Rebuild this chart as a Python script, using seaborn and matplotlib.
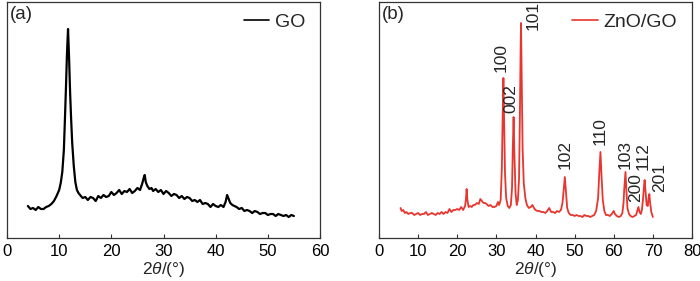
import matplotlib
matplotlib.use("Agg")
import matplotlib.pyplot as plt
import seaborn as sns
import pandas as pd

# ---------------- data (arbitrary intensity units) ----------------
go_x = [4.0, 4.5, 5.0, 5.5, 6.0, 6.5, 7.0, 7.5, 8.0, 8.5, 9.0, 9.5, 10.0, 10.3, 10.6, 10.9,
        11.1, 11.3, 11.5, 11.7, 11.9, 12.1, 12.3, 12.5, 12.8, 13.1, 13.4, 13.7, 14.0, 14.5,
        15.0, 15.5, 16.0, 16.5, 17.0, 17.5, 18.0, 18.5, 19.0, 19.5, 20.0, 20.5, 21.0, 21.5,
        22.0, 22.5, 23.0, 23.5, 24.0, 24.5, 25.0, 25.5, 25.9, 26.2, 26.4, 26.6, 26.9, 27.3,
        27.7, 28.0, 28.5, 29.0, 29.5, 30.0, 30.5, 31.0, 31.5, 32.0, 32.5, 33.0, 33.5, 34.0,
        34.5, 35.0, 35.5, 36.0, 36.5, 37.0, 37.5, 38.0, 38.5, 39.0, 39.5, 40.0, 40.5, 41.0,
        41.5, 41.9, 42.2, 42.5, 42.8, 43.2, 43.6, 44.0, 44.5, 45.0, 45.5, 46.0, 46.5, 47.0,
        47.5, 48.0, 48.5, 49.0, 49.5, 50.0, 50.5, 51.0, 51.5, 52.0, 52.5, 53.0, 53.5, 54.0,
        54.5, 55.0]
go_y = [32, 29, 30, 28, 31, 29, 29, 31, 32, 34, 37, 42, 48, 55, 66, 88,
        118, 150, 185, 209, 180, 145, 118, 95, 72, 56, 48, 45, 43, 40,
        41, 38, 41, 40, 37, 42, 40, 43, 41, 42, 46, 43, 45, 48,
        44, 47, 46, 49, 45, 47, 50, 48, 54, 60, 63, 56, 52, 49,
        50, 47, 49, 46, 48, 44, 47, 45, 42, 44, 43, 40, 42, 39,
        41, 40, 37, 38, 36, 38, 34, 35, 34, 31, 34, 32, 31, 33,
        31, 36, 43, 39, 35, 33, 32, 31, 29, 30, 27, 28, 27, 25,
        27, 26, 24, 25, 25, 23, 24, 24, 22, 24, 23, 22, 23, 21,
        23, 22]

zno_x = [5.5, 5.8, 6.2, 6.6, 7.0, 7.5, 8.0, 8.5, 9.0, 9.5, 10.0, 10.5, 11.0, 11.5, 12.0,
         12.5, 13.0, 13.5, 14.0, 14.5, 15.0, 15.5, 16.0, 16.5, 17.0, 17.5, 18.0, 18.5, 19.0,
         19.5, 20.0, 20.5, 21.0, 21.5, 22.0, 22.2, 22.4, 22.6, 22.9, 23.3, 23.7, 24.1, 24.5,
         25.0, 25.5, 25.9, 26.3, 26.7, 27.1, 27.5, 28.0, 28.5, 29.0, 29.5, 30.0, 30.4, 30.7,
         31.1, 31.4, 31.6, 31.8, 32.0, 32.2, 32.5, 32.9, 33.3, 33.7, 34.0, 34.2, 34.4, 34.6,
         34.9, 35.2, 35.5, 35.8, 36.0, 36.2, 36.3, 36.5, 36.7, 37.0, 37.4, 37.8, 38.3, 38.8,
         39.2, 39.6, 40.0, 40.5, 41.0, 41.5, 42.0, 42.5, 43.0, 43.5, 44.0, 44.5, 45.0, 45.5,
         46.0, 46.5, 46.9, 47.2, 47.5, 47.8, 48.1, 48.5, 49.0, 49.5, 50.0, 50.5, 51.0, 51.5,
         52.0, 52.5, 53.0, 53.5, 54.0, 54.5, 55.0, 55.5, 56.0, 56.3, 56.6, 56.9, 57.2, 57.6,
         58.0, 58.5, 59.0, 59.5, 60.0, 60.3, 60.8, 61.3, 61.8, 62.2, 62.5, 62.7, 63.0, 63.2,
         63.5, 63.9, 64.3, 64.8, 65.3, 65.7, 66.0, 66.3, 66.6, 66.9, 67.2, 67.5, 67.8, 67.9,
         68.1, 68.4, 68.7, 68.9, 69.1, 69.3, 69.6, 70.0]
zno_y = [30, 27, 28, 25, 26, 24, 25, 25, 23, 24, 25, 23, 24, 24, 26,
         23, 24, 25, 24, 23, 25, 24, 26, 24, 26, 25, 29, 26, 28,
         28, 29, 28, 31, 28, 32, 38, 49, 38, 31, 32, 31, 33, 33,
         35, 34, 39, 37, 35, 35, 34, 32, 33, 31, 31, 32, 36, 33,
         38, 70, 120, 160, 115, 65, 40, 32, 30, 33, 50, 90, 121, 85,
         45, 33, 38, 60, 120, 190, 215, 150, 90, 55, 40, 33, 30, 31,
         33, 30, 28, 27, 27, 26, 26, 25, 27, 30, 26, 26, 25, 27,
         26, 28, 35, 48, 61, 45, 30, 25, 23, 23, 22, 23, 22, 22,
         21, 23, 22, 22, 21, 22, 23, 27, 40, 65, 86, 60, 38, 27,
         23, 23, 22, 24, 27, 24, 22, 21, 22, 25, 35, 50, 66, 50,
         30, 24, 22, 21, 22, 23, 27, 31, 26, 24, 28, 40, 55, 58,
         48, 33, 32, 40, 44, 35, 26, 21]

peak_labels = ["100", "002", "101", "102", "110", "103", "200", "112", "201"]
label_x = [31.1, 33.8, 39.5, 47.5, 56.4, 62.9, 65.5, 67.5, 71.6]
label_y = [166, 125, 208, 69, 93, 69, 36, 68, 46]

ticks_a = [0, 10, 20, 30, 40, 50, 60]
ticks_b = [0, 10, 20, 30, 40, 50, 60, 70, 80]

# ---------------- style ----------------
sns.set_style("ticks")
plt.rcParams["font.family"] = ["Liberation Sans", "DejaVu Sans"]
plt.rcParams["mathtext.fontset"] = "custom"
plt.rcParams["mathtext.rm"] = "Liberation Sans"
plt.rcParams["mathtext.it"] = "Liberation Sans:italic"

RED = "#e8352e"
SPINE = "#333333"

df_go = pd.DataFrame({"x": go_x, "y": go_y})
df_zno = pd.DataFrame({"x": zno_x, "y": zno_y})

fig = plt.figure(figsize=(7, 2.81), dpi=100)
ax1 = fig.add_axes([7 / 700, 43 / 281, 313 / 700, 236 / 281])
ax2 = fig.add_axes([379 / 700, 43 / 281, 313 / 700, 236 / 281])

sns.lineplot(data=df_go, x="x", y="y", ax=ax1, color="black", lw=1.6,
             estimator=None, sort=False, label="GO")
sns.lineplot(data=df_zno, x="x", y="y", ax=ax2, color=RED, lw=1.3,
             estimator=None, sort=False, label="ZnO/GO")

for t, lx, ly in zip(peak_labels, label_x, label_y):
    ax2.text(lx, ly, t, rotation=90, ha="center", va="bottom", fontsize=12.5)

for ax, ticks, tag in [(ax1, ticks_a, "(a)"), (ax2, ticks_b, "(b)")]:
    ax.set_xlim(ticks[0], ticks[-1])
    ax.set_ylim(0, 236)
    ax.set_xticks(ticks)
    ax.set_yticks([])
    ax.set_ylabel("")
    ax.set_xlabel("2$\\mathit{\\theta}$/(°)", fontsize=12.5, labelpad=1)
    ax.tick_params(axis="x", direction="in", length=3, width=0.8, labelsize=12,
                   pad=4, colors=SPINE, labelcolor="black")
    for s in ax.spines.values():
        s.set_visible(True)
        s.set_color(SPINE)
        s.set_linewidth(0.9)
    ax.text(0.01, 0.985, tag, transform=ax.transAxes, ha="left", va="top", fontsize=13.5)
    leg = ax.legend(loc="upper right", frameon=False, fontsize=14, handlelength=1.3,
                    handletextpad=0.3, borderaxespad=0.2, bbox_to_anchor=(0.99, 1.0))
    for h in leg.get_lines():
        h.set_linewidth(1.2)

fig.savefig("out.png", dpi=100)
